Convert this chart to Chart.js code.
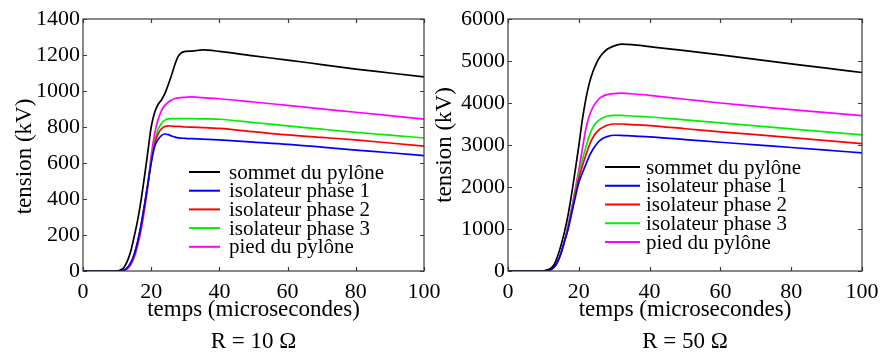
<!DOCTYPE html>
<html>
<head>
<meta charset="utf-8">
<script src="https://cdn.jsdelivr.net/npm/chart.js@4.4.1/dist/chart.umd.min.js"></script>
<style>
  html, body { margin: 0; padding: 0; background: #fff; }
  body { width: 893px; height: 353px; position: relative; overflow: hidden; }
  canvas { position: absolute; top: 0; }
  #c10 { left: 0; }
  #c50 { left: 420px; }
</style>
</head>
<body>
<canvas id="c10" width="440" height="353"></canvas>
<canvas id="c50" width="473" height="353"></canvas>
<script>
// ================= DONNEES =================
const temps = [0, 5, 10, 11, 12, 13, 14, 15, 16, 17, 18, 19, 20, 21, 22, 23, 24, 25, 26, 27, 28, 30, 32, 35, 40, 50, 60, 70, 80, 90, 100];

const noms = ["sommet du pylône", "isolateur phase 1", "isolateur phase 2", "isolateur phase 3", "pied du pylône"];
const couleurs = ["#000000", "#0000ff", "#ff0000", "#00ee00", "#ff00ff"];

// R = 10 ohm
const sommet10 = [0, 0, 0, 5, 20, 55, 110, 190, 280, 390, 520, 660, 800, 880, 925, 950, 985, 1035, 1090, 1150, 1195, 1220, 1222, 1228, 1220, 1195, 1172, 1147, 1122, 1100, 1078];
const phase1_10 = [0, 0, 0, 2, 5, 18, 45, 90, 160, 250, 360, 480, 600, 690, 730, 752, 761, 758, 750, 744, 740, 737, 735, 733, 728, 716, 704, 688, 672, 657, 641];
const phase2_10 = [0, 0, 0, 2, 5, 18, 45, 90, 160, 250, 360, 480, 605, 705, 760, 790, 803, 806, 805, 804, 803, 800, 799, 797, 792, 774, 756, 742, 728, 711, 694];
const phase3_10 = [0, 0, 0, 2, 5, 18, 45, 90, 160, 255, 365, 490, 615, 715, 785, 820, 838, 845, 846, 846, 846, 846, 846, 845, 843, 825, 806, 788, 770, 755, 739];
const pied10 = [0, 0, 0, 1, 3, 12, 35, 75, 140, 225, 335, 470, 640, 760, 840, 890, 920, 938, 950, 958, 962, 965, 967, 963, 957, 939, 920, 901, 882, 863, 844];

// R = 50 ohm
const sommet50 = [0, 0, 0, 20, 60, 150, 350, 620, 950, 1350, 1850, 2400, 2980, 3600, 4100, 4480, 4750, 4950, 5100, 5200, 5280, 5360, 5400, 5390, 5342, 5245, 5145, 5040, 4932, 4830, 4726];
const phase1_50 = [0, 0, 0, 10, 30, 90, 220, 430, 720, 1000, 1380, 1750, 2100, 2330, 2540, 2740, 2900, 3020, 3110, 3165, 3200, 3232, 3230, 3215, 3193, 3130, 3066, 3003, 2940, 2877, 2814];
const phase2_50 = [0, 0, 0, 10, 30, 90, 220, 430, 720, 1030, 1420, 1820, 2200, 2500, 2760, 3000, 3180, 3300, 3380, 3430, 3470, 3500, 3500, 3485, 3461, 3387, 3312, 3245, 3177, 3106, 3035];
const phase3_50 = [0, 0, 0, 10, 30, 90, 220, 430, 720, 1060, 1470, 1880, 2300, 2650, 2950, 3230, 3420, 3540, 3610, 3655, 3685, 3707, 3705, 3690, 3667, 3596, 3525, 3454, 3383, 3312, 3241];
const pied50 = [0, 0, 0, 10, 30, 90, 220, 430, 720, 1100, 1500, 1950, 2400, 2900, 3380, 3700, 3900, 4030, 4120, 4170, 4200, 4225, 4236, 4220, 4181, 4090, 4000, 3920, 3841, 3770, 3699];

const ticksX = [0, 20, 40, 60, 80, 100];

// ================= STYLE =================
const serif = "'Liberation Serif', 'Times New Roman', serif";
Chart.defaults.font.family = serif;
Chart.defaults.color = "#000";

function makeDatasets(series) {
  return series.map((vals, i) => ({
    label: noms[i],
    data: temps.map((t, k) => ({ x: t, y: vals[k] })),
    borderColor: couleurs[i],
    backgroundColor: couleurs[i],
    borderWidth: 1.7,
    pointRadius: 0,
    cubicInterpolationMode: "monotone",
    fill: false
  }));
}

// cadre, graduations internes et legende
const cadrePlugin = {
  id: "cadre",
  afterDatasetsDraw(chart, args, opts) {
    const { ctx, chartArea: a, scales: { x, y } } = chart;
    ctx.save();
    ctx.strokeStyle = "#3a3a3a";
    ctx.lineWidth = 1.2;
    ctx.strokeRect(a.left, a.top, a.right - a.left, a.bottom - a.top);
    ctx.beginPath();
    x.ticks.forEach(t => {
      const px = Math.round(x.getPixelForValue(t.value)) + 0.5;
      ctx.moveTo(px, a.bottom); ctx.lineTo(px, a.bottom - 4);
      ctx.moveTo(px, a.top); ctx.lineTo(px, a.top + 4);
    });
    y.ticks.forEach(t => {
      const py = Math.round(y.getPixelForValue(t.value)) + 0.5;
      ctx.moveTo(a.left, py); ctx.lineTo(a.left + 4, py);
      ctx.moveTo(a.right, py); ctx.lineTo(a.right - 4, py);
    });
    ctx.stroke();

    // legende
    ctx.font = "21px " + serif;
    ctx.textBaseline = "middle";
    ctx.textAlign = "left";
    chart.data.datasets.forEach((ds, i) => {
      const ly = opts.y + i * opts.row;
      ctx.strokeStyle = ds.borderColor;
      ctx.lineWidth = 2;
      ctx.beginPath();
      ctx.moveTo(opts.x, ly);
      ctx.lineTo(opts.x + opts.line, ly);
      ctx.stroke();
      ctx.fillStyle = "#000";
      ctx.fillText(ds.label, opts.x + opts.line + opts.gap, ly + 1);
    });
    ctx.restore();
  }
};

function makeChart(id, series, yMax, yStep, titreY, sousTitre, pad, axeW, titrePad, legende) {
  const ctx = document.getElementById(id).getContext("2d");
  return new Chart(ctx, {
    type: "line",
    data: { datasets: makeDatasets(series) },
    options: {
      responsive: false,
      animation: false,
      events: [],
      layout: { padding: pad },
      plugins: {
        legend: { display: false },
        tooltip: { enabled: false },
        cadre: legende
      },
      scales: {
        x: {
          type: "linear",
          min: 0,
          max: 100,
          afterBuildTicks: s => { s.ticks = ticksX.map(v => ({ value: v })); },
          ticks: { font: { size: 22 }, padding: 8, maxRotation: 0, callback: v => v },
          grid: { display: false, drawTicks: false },
          border: { display: false },
          title: {
            display: true,
            text: ["temps (microsecondes)", sousTitre],
            font: { size: 23, lineHeight: 1.4 },
            padding: { top: 0, bottom: -5 }
          },
          afterFit: s => { s.height = 82; s.paddingLeft = 0; s.paddingRight = 0; }
        },
        y: {
          min: 0,
          max: yMax,
          ticks: { stepSize: yStep, font: { size: 22 }, padding: 3, callback: v => v },
          grid: { display: false, drawTicks: false },
          border: { display: false },
          title: {
            display: true,
            text: titreY,
            font: { size: 23, lineHeight: 1.4 },
            padding: { top: titrePad, bottom: 0 }
          },
          afterFit: s => { s.width = axeW; s.paddingTop = 0; s.paddingBottom = 0; }
        }
      }
    },
    plugins: [cadrePlugin]
  });
}

// ================= R = 10 ohm =================
// (espaces insecables : titre un peu plus bas, comme sur la figure)
window.chart10 = makeChart("c10",
  [sommet10, phase1_10, phase2_10, phase3_10, pied10],
  1400, 200, "tension (kV)\u00a0\u00a0\u00a0\u00a0", "R = 10 Ω",
  { left: 0, top: 19, right: 16, bottom: 0 }, 83, 9,
  { x: 189, y: 172, row: 18.7, line: 31, gap: 9 });

// ================= R = 50 ohm =================
window.chart50 = makeChart("c50",
  [sommet50, phase1_50, phase2_50, phase3_50, pied50],
  6000, 1000, "tension (kV)", "R = 50 Ω",
  { left: 0, top: 19, right: 31, bottom: 0 }, 88, 9,
  { x: 185, y: 167, row: 18.75, line: 35, gap: 6 });
</script>
</body>
</html>
